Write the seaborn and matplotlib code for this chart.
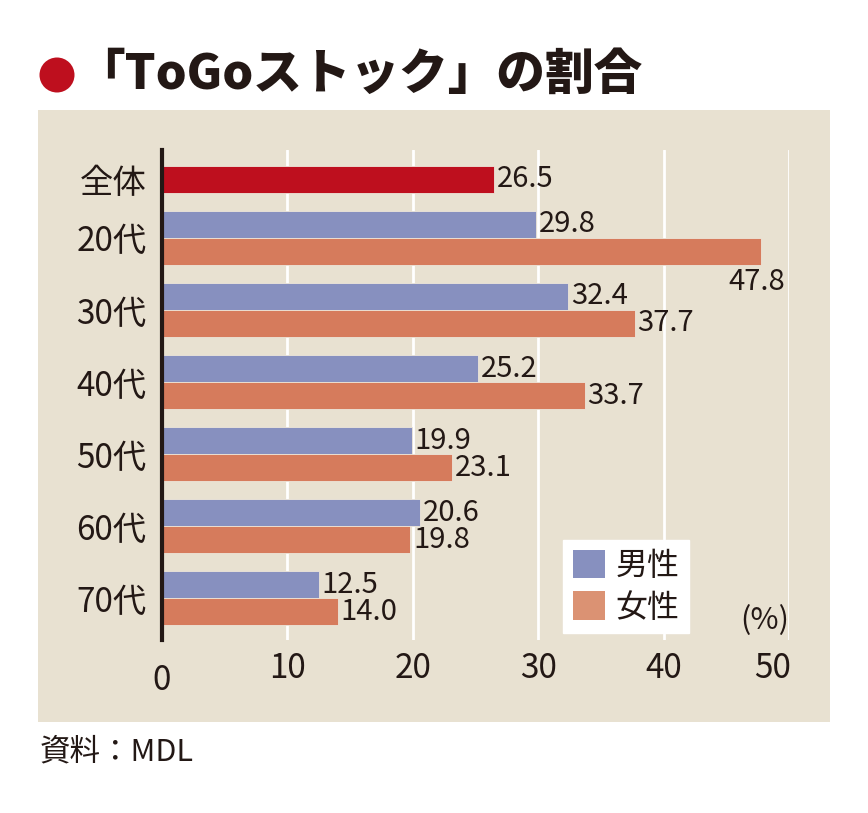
import numpy as np
import pandas as pd
import seaborn as sns
import matplotlib.pyplot as plt
from matplotlib.patches import Rectangle, Circle, Patch
from matplotlib.transforms import ScaledTranslation

# ---- data ----
categories = ['20代', '30代', '40代', '50代', '60代', '70代']
male = [29.8, 32.4, 25.2, 19.9, 20.6, 12.5]
female = [47.8, 37.7, 33.7, 23.1, 19.8, 14.0]
total_label = '全体'
total_value = 26.5
series_names = ['全体', '男性', '女性']
x_ticks = [0, 10, 20, 30, 40, 50]

sns.set_theme(style='white')
plt.rcParams['font.family'] = ['Noto Sans CJK JP', 'DejaVu Sans']

TEXT = '#231815'
BG = '#E8E1D1'
RED = '#BE0F1E'
BLUE = '#8790BF'
ORANGE = '#D67B5C'
ORANGE_LEG = '#DB9273'

half = 0.1875
rows = [dict(label=total_label, series=series_names[0], value=total_value, pos=half)]
for i, (c, m, f) in enumerate(zip(categories, male, female), start=1):
    rows.append(dict(label=c, series=series_names[1], value=m, pos=i - half))
    rows.append(dict(label=c, series=series_names[2], value=f, pos=i + half))
df = pd.DataFrame(rows)

W, H = 868, 813
fig = plt.figure(figsize=(W / 100, H / 100), dpi=100)
fig.patches.append(Rectangle((38 / W, 1 - 722 / H), 792 / W, 612 / H,
                             transform=fig.transFigure, facecolor=BG,
                             edgecolor='none', zorder=-1))
fig.patches.append(Circle((57 / 100, (H - 75) / 100), 0.175,
                          transform=fig.dpi_scale_trans, facecolor=RED,
                          edgecolor='none', zorder=2))

ax = fig.add_axes([162 / W, 1 - 640 / H, 627 / W, 490 / H])
ax.set_facecolor('none')

sns.barplot(data=df, x='value', y='pos', hue='series', orient='h',
            native_scale=True, dodge=False, width=1.0,
            palette={'全体': RED, '男性': BLUE, '女性': ORANGE},
            saturation=1, errorbar=None, legend=False, ax=ax,
            edgecolor='#EDE6DA', linewidth=0.6)

ax.set_xlim(0, 50)
ax.set_ylim(6.58, -0.22)
ax.set_xlabel('')
ax.set_ylabel('')

ax.set_yticks([half] + list(range(1, len(categories) + 1)))
ax.set_yticklabels([total_label] + categories)
ax.set_xticks(x_ticks)
ax.set_xticklabels([str(t) for t in x_ticks])
ax.tick_params(axis='y', length=0, pad=11, labelsize=24, labelcolor=TEXT)
ax.tick_params(axis='x', length=0, pad=8, labelsize=24, labelcolor=TEXT)

ax.xaxis.grid(True, color='white', lw=2)
ax.yaxis.grid(False)
ax.set_axisbelow(True)
for s in ['top', 'right', 'bottom']:
    ax.spines[s].set_visible(False)
ax.spines['left'].set_color(TEXT)
ax.spines['left'].set_linewidth(3)

xl = ax.get_xticklabels()
xl[0].set_transform(xl[0].get_transform() + ScaledTranslation(0, -0.12, fig.dpi_scale_trans))
xl[-1].set_transform(xl[-1].get_transform() + ScaledTranslation(-0.16, 0, fig.dpi_scale_trans))

# value labels
for _, r in df.iterrows():
    v = r['value']
    if v > 45:
        ax.annotate(f'{v:.1f}', xy=(v, r['pos']), xytext=(17, -22),
                    textcoords='offset points', ha='right', va='center',
                    fontsize=21, color=TEXT)
    else:
        ax.annotate(f'{v:.1f}', xy=(v, r['pos']), xytext=(2, 0),
                    textcoords='offset points', ha='left', va='center',
                    fontsize=21, color=TEXT)

ax.annotate('(%)', xy=(1, 0), xycoords='axes fraction', xytext=(0, 3),
            textcoords='offset points', ha='right', va='bottom',
            fontsize=22, color=TEXT)

handles = [Patch(facecolor=BLUE, edgecolor='none', label='男性'),
           Patch(facecolor=ORANGE_LEG, edgecolor='none', label='女性')]
leg = fig.legend(handles=handles, loc='upper left',
                 bbox_to_anchor=(563 / W, 1 - 540 / H), bbox_transform=fig.transFigure,
                 frameon=True, fancybox=False, framealpha=1, edgecolor='white',
                 facecolor='white', fontsize=23, handlelength=1.0, handleheight=1.0,
                 labelspacing=0.3, handletextpad=0.35, borderpad=0.3, borderaxespad=0)
for t in leg.get_texts():
    t.set_color(TEXT)

fig.text(76 / W, 1 - 75 / H, '「ToGoストック」の割合', fontsize=35,
         fontweight='black', va='center', ha='left', color=TEXT)
fig.text(40 / W, 1 - 752 / H, '資料：MDL', fontsize=22, va='center',
         ha='left', color=TEXT)

fig.savefig('out.png', dpi=100, facecolor='white')
